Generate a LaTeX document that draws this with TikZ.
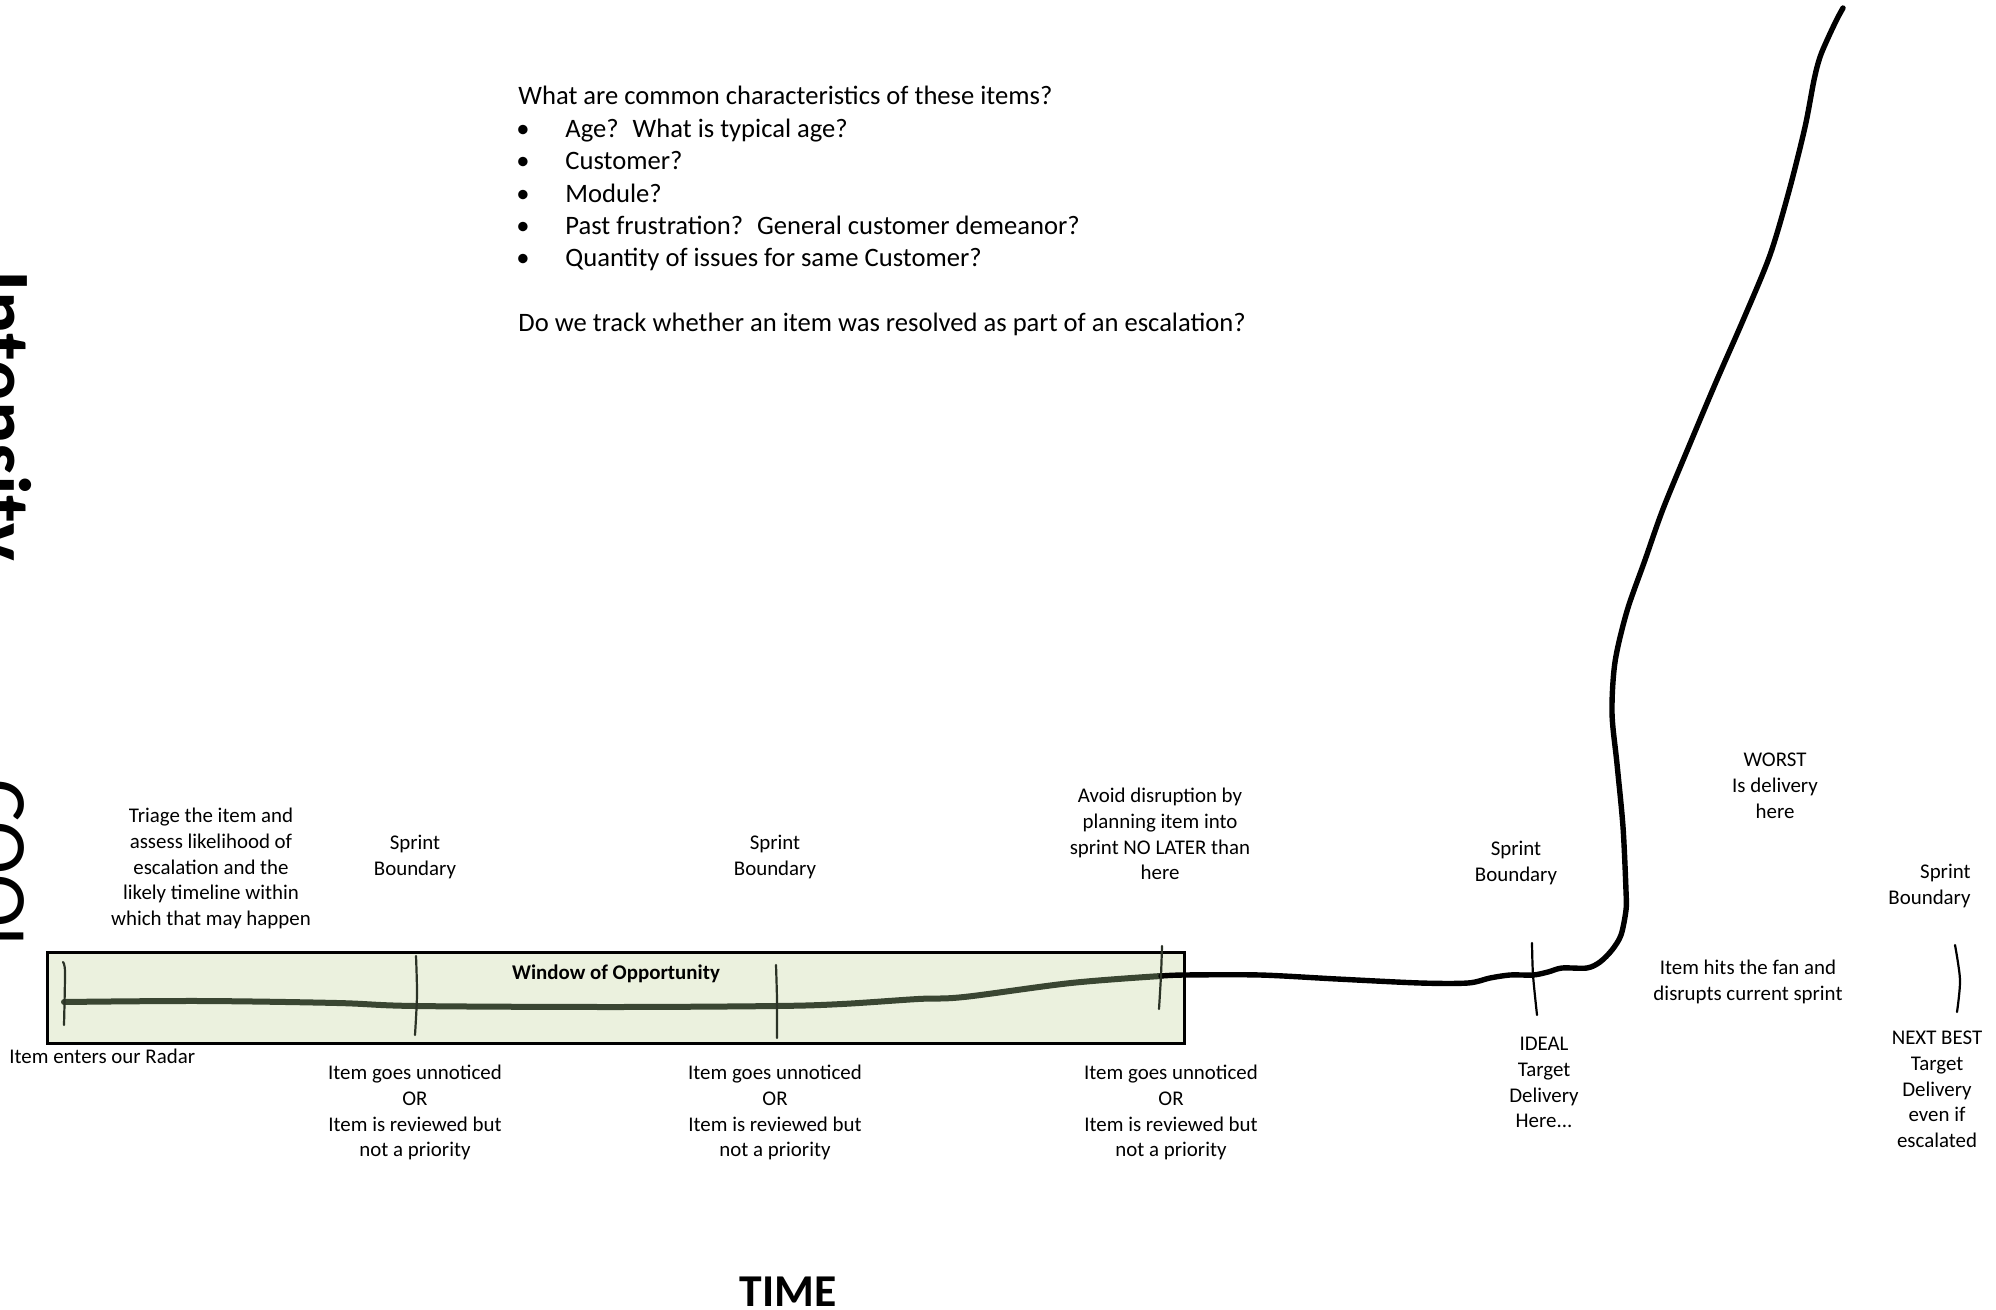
\documentclass[tikz,border=0pt]{standalone}
\usepackage{fontspec}
\setmainfont{Carlito}
\definecolor{windowfill}{HTML}{EBF1DE}
\definecolor{trend}{HTML}{3A4632}
\definecolor{tickdark}{HTML}{2B3326}
\tikzset{
  lbl/.style={font=\fontsize{10.45}{12.8}\selectfont, align=center, inner sep=0pt, anchor=north},
  qline/.style={font=\fontsize{13.3}{16.2}\selectfont, inner sep=0pt, anchor=base west},
  qbullet/.style={font=\fontsize{13.3}{16.2}\selectfont, inner sep=0pt, anchor=base},
  axisbig/.style={font=\fontsize{40}{48}\selectfont, inner sep=0pt, rotate=-90, anchor=base west},
  sprinttick/.style={draw=tickdark, line width=1.1pt, line cap=round},
  blacktick/.style={draw=black, line width=1.1pt, line cap=round},
}
\begin{document}
\begin{tikzpicture}[x=0.5pt, y=-0.5pt]
\useasboundingbox (0,0) rectangle (1996,1310);
\clip (0,0) rectangle (1996,1310);

% questions at the top
\node[qline] (q0) at (518,105) {What are common characteristics of these items?};
\foreach \yy/\txt [count=\i] in {138/{Age?~ What is typical age?}, 170/{Customer?}, 203/{Module?}, 235/{Past frustration?~ General customer demeanor?}, 267/{Quantity of issues for same Customer?}} {
  \node[qbullet] (b\i) at (523,\yy) {•};
  \node[qline] (q\i) at (565,\yy) {\txt};
}
\node[qline] (q6) at (518,332) {Do we track whether an item was resolved as part of an escalation?};

% axis words running down the left edge
\node[axisbig, font=\fontsize{40}{48}\selectfont\bfseries] (intensity) at (-25,270) {Intensity};
\node[axisbig] (cool) at (-27,779) {COOL};

% window of opportunity
\path[draw=black, fill=windowfill, line width=1.5pt] (47,952) rectangle (1184,1043);
\node[lbl, font=\fontsize{10.45}{12.8}\selectfont\bfseries] (window) at (616,964) {Window of Opportunity};

% trend line inside the window
\draw[trend, line width=3pt, line cap=round]
  plot[smooth, tension=0.55] coordinates {(64,1002) (200,1001) (337,1003) (415,1006) (612,1007) (777,1006) (842,1004) (918,999) (964,997) (1071,983) (1161,976)};

% escalation curve
\draw[black, line width=2.7pt, line cap=round, line join=round]
  plot[smooth, tension=0.5] coordinates {(1161,976) (1184,975) (1260,975) (1337,979) (1420,983) (1468,983) (1490,978) (1510,975) (1533,975) (1548,972) (1562,968) (1587,968) (1600,962) (1612,950) (1621,935) (1626,910) (1626,891) (1623,827) (1617,764) (1612,713) (1615,662) (1627,611) (1645,560) (1663,509) (1689,446) (1716,382) (1744,318) (1770,255) (1789,191) (1805,127) (1814,80) (1820,57) (1828,38) (1837,19) (1843,8)};

% sprint boundary ticks
\draw[sprinttick] plot[smooth] coordinates {(63,962) (65,972) (64,1025)};
\draw[sprinttick] plot[smooth] coordinates {(416,956) (417,995) (415,1035)};
\draw[sprinttick] plot[smooth] coordinates {(776,965) (777,1000) (777,1038)};
\draw[sprinttick] plot[smooth] coordinates {(1162,946) (1161,975) (1159,1009)};
\draw[blacktick] plot[smooth] coordinates {(1532,943) (1533,975) (1537,1015)};
\draw[blacktick] plot[smooth] coordinates {(1955,945) (1960,980) (1957,1012)};

% labels above the line
\node[lbl] (triage) at (211,808) {Triage the item and\\assess likelihood of\\escalation and the\\likely timeline within\\which that may happen};
\node[lbl] (sb1) at (415,835) {Sprint\\Boundary};
\node[lbl] (sb2) at (775,835) {Sprint\\Boundary};
\node[lbl] (avoid) at (1160,788) {Avoid disruption by\\planning item into\\sprint NO LATER than\\here};
\node[lbl] (sb3) at (1516,841) {Sprint\\Boundary};
\node[lbl] (worst) at (1775,753) {WORST\\Is delivery\\here};
\node[lbl, align=right, anchor=north east] (sb4) at (1971,864) {Sprint\\Boundary};
\node[lbl] (fan) at (1748,960) {Item hits the fan and\\disrupts current sprint};

% labels below the line
\node[lbl, anchor=north west] (radar) at (9,1049) {Item enters our Radar};
\node[lbl] (miss1) at (415,1065) {Item goes unnoticed\\OR\\Item is reviewed but\\not a priority};
\node[lbl] (miss2) at (775,1065) {Item goes unnoticed\\OR\\Item is reviewed but\\not a priority};
\node[lbl] (miss3) at (1171,1065) {Item goes unnoticed\\OR\\Item is reviewed but\\not a priority};
\node[lbl] (ideal) at (1544,1037) {IDEAL\\Target\\Delivery\\Here...};
\node[lbl] (nextbest) at (1937,1031) {NEXT BEST\\Target\\Delivery\\even if\\escalated};

% time axis word
\node[font=\fontsize{22.8}{27}\selectfont\bfseries, inner sep=0pt, anchor=base] (time) at (788,1306) {TIME};
\end{tikzpicture}
\end{document}
